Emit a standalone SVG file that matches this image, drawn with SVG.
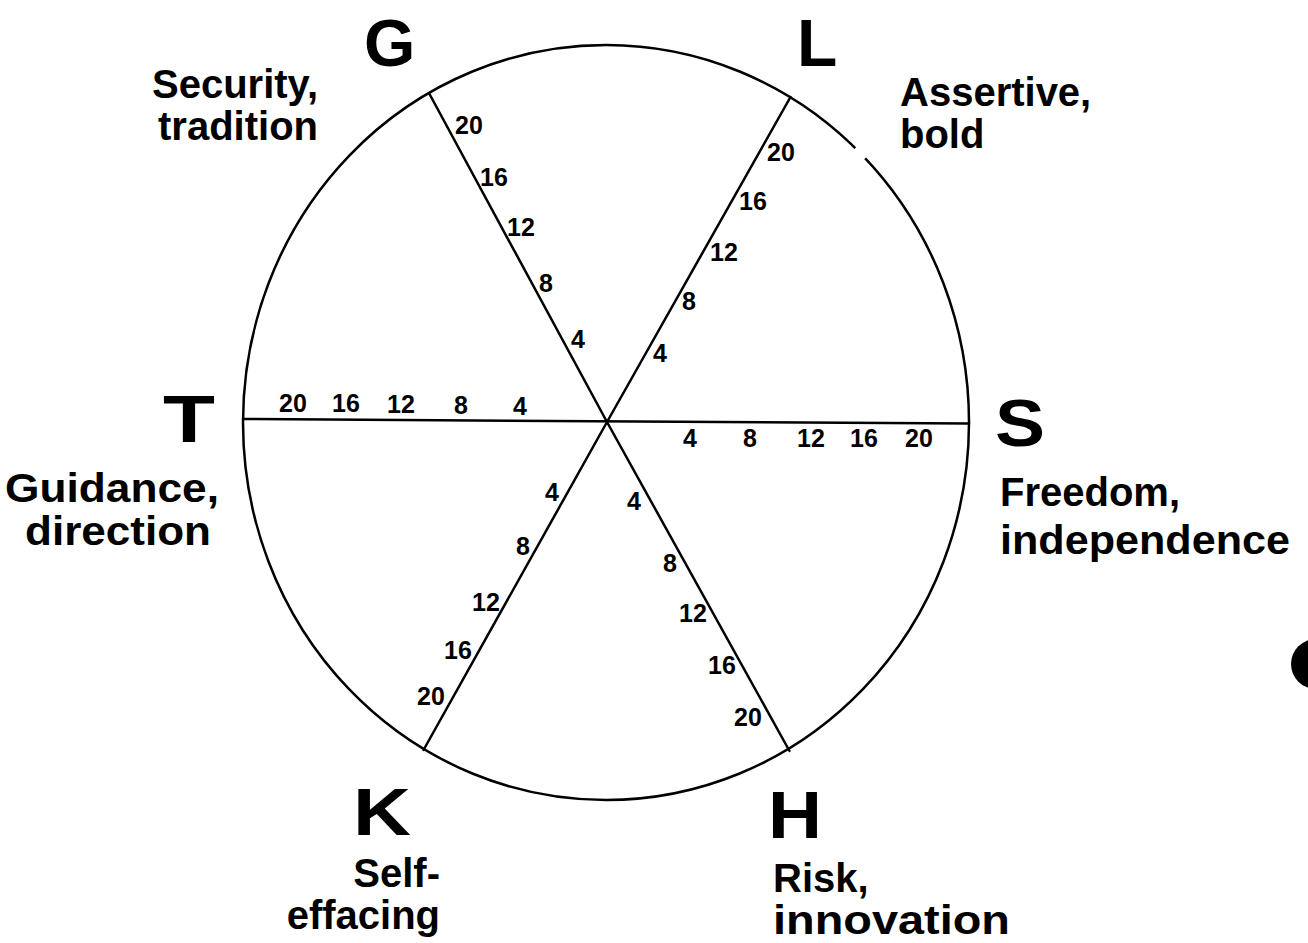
<svg xmlns="http://www.w3.org/2000/svg" width="1308" height="943" viewBox="0 0 1308 943">
<style>
.ln{stroke:#000;stroke-width:2.5;fill:none;stroke-linecap:round}
.big{font-family:"Liberation Sans",Arial,sans-serif;font-weight:bold;font-size:66px;fill:#000}
.lab{font-family:"Liberation Sans",Arial,sans-serif;font-weight:bold;font-size:40px;fill:#000}
.num{font-family:"Liberation Sans",Arial,sans-serif;font-weight:bold;font-size:25px;fill:#000;text-anchor:middle}
</style>
<rect width="1308" height="943" fill="#fff"/>
<g id="wheel">
<ellipse cx="606" cy="422.5" rx="363" ry="377.5" class="ln"/>
<line x1="856" y1="147.5" x2="865.5" y2="158" stroke="#fff" stroke-width="6"/>
</g>
<g id="connectors">
<line class="ln" x1="607" y1="422" x2="429.5" y2="94"/>
<line class="ln" x1="607" y1="422" x2="790.5" y2="97"/>
<line class="ln" x1="243" y1="419" x2="969" y2="423.5"/>
<line class="ln" x1="607" y1="422" x2="423.5" y2="750"/>
<line class="ln" x1="607" y1="422" x2="789.5" y2="751"/>
</g>
<g id="scale-G">
<text class="num" x="469" y="134">20</text>
<text class="num" x="494" y="186">16</text>
<text class="num" x="521" y="236">12</text>
<text class="num" x="546" y="292">8</text>
<text class="num" x="578" y="348">4</text>
</g>
<g id="scale-L">
<text class="num" x="781" y="161">20</text>
<text class="num" x="753" y="210">16</text>
<text class="num" x="724" y="261">12</text>
<text class="num" x="689" y="310">8</text>
<text class="num" x="660" y="362">4</text>
</g>
<g id="scale-T">
<text class="num" x="293" y="412">20</text>
<text class="num" x="346" y="412">16</text>
<text class="num" x="401" y="413">12</text>
<text class="num" x="461" y="414">8</text>
<text class="num" x="520" y="415">4</text>
</g>
<g id="scale-S">
<text class="num" x="690" y="447">4</text>
<text class="num" x="750" y="447">8</text>
<text class="num" x="811" y="447">12</text>
<text class="num" x="864" y="447">16</text>
<text class="num" x="919" y="447">20</text>
</g>
<g id="scale-K">
<text class="num" x="552" y="501">4</text>
<text class="num" x="523" y="555">8</text>
<text class="num" x="486" y="611">12</text>
<text class="num" x="458" y="659">16</text>
<text class="num" x="431" y="705">20</text>
</g>
<g id="scale-H">
<text class="num" x="634" y="510">4</text>
<text class="num" x="670" y="572">8</text>
<text class="num" x="693" y="622">12</text>
<text class="num" x="722" y="674">16</text>
<text class="num" x="748" y="726">20</text>
</g>
<g id="node-G">
<text class="big" x="364" y="66">G</text>
<text class="lab" x="318" y="98" text-anchor="end">Security,</text>
<text class="lab" x="318" y="140" text-anchor="end">tradition</text>
</g>
<g id="node-L">
<text class="big" x="797" y="66">L</text>
<text class="lab" x="900" y="106">Assertive,</text>
<text class="lab" x="900" y="148">bold</text>
</g>
<g id="node-T">
<text class="big" x="163" y="442" textLength="52" lengthAdjust="spacingAndGlyphs">T</text>
<text class="lab" x="5" y="502" textLength="214" lengthAdjust="spacingAndGlyphs">Guidance,</text>
<text class="lab" x="25" y="545" textLength="186" lengthAdjust="spacingAndGlyphs">direction</text>
</g>
<g id="node-S">
<text class="big" x="995" y="446" textLength="50" lengthAdjust="spacingAndGlyphs">S</text>
<text class="lab" x="1000" y="506">Freedom,</text>
<text class="lab" x="1000" y="554" textLength="290" lengthAdjust="spacingAndGlyphs">independence</text>
</g>
<g id="node-K">
<text class="big" x="353" y="835" textLength="58" lengthAdjust="spacingAndGlyphs">K</text>
<text class="lab" x="440" y="887" text-anchor="end">Self-</text>
<text class="lab" x="440" y="929" text-anchor="end">effacing</text>
</g>
<g id="node-H">
<text class="big" x="768" y="838" textLength="54" lengthAdjust="spacingAndGlyphs">H</text>
<text class="lab" x="773" y="892">Risk,</text>
<text class="lab" x="773" y="934" textLength="237" lengthAdjust="spacingAndGlyphs">innovation</text>
</g>
<circle cx="1316" cy="664" r="25" fill="#000"/>
</svg>
